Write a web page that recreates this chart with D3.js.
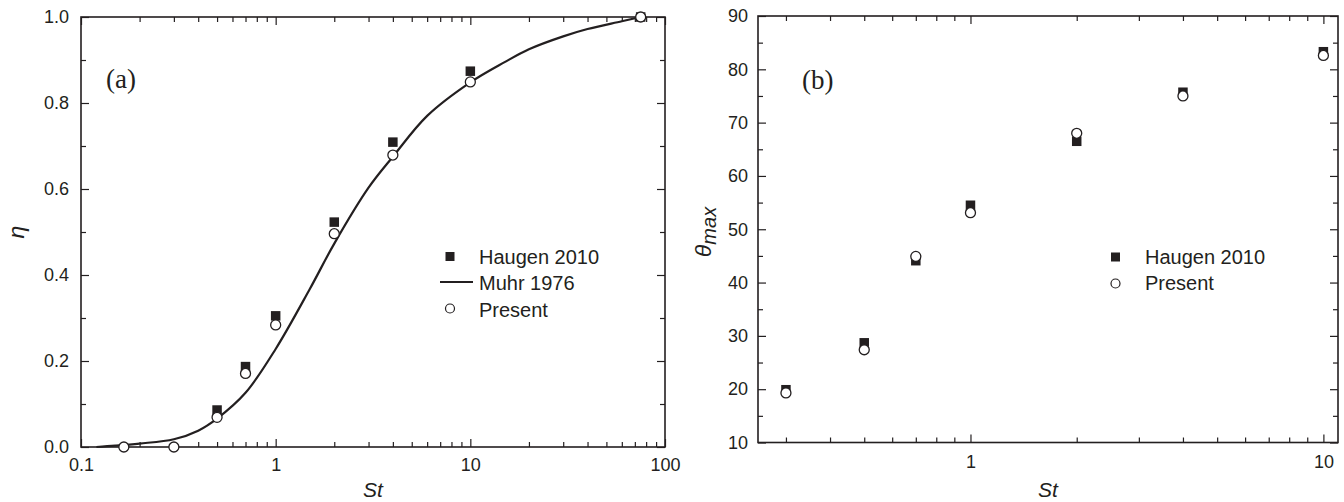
<!DOCTYPE html>
<html>
<head>
<meta charset="utf-8">
<script src="https://cdn.jsdelivr.net/npm/d3@7"></script>
<style>
  body { margin: 0; background: #fff; }
  svg { display: block; font-family: "Liberation Sans", Arial, sans-serif; }
  text { fill: #231f20; }
</style>
</head>
<body>
<svg id="chart" width="1344" height="502"></svg>
<script>
// ---- Panel (a): collection efficiency eta vs Stokes number ----
const stPresentA = [0.166, 0.3, 0.5, 0.7, 1, 2, 4, 10, 75];
const etaPresent = [0.0, 0.0, 0.069, 0.171, 0.284, 0.496, 0.679, 0.849, 1.0];
const stHaugenA = [0.5, 0.7, 1, 2, 4, 10, 75];
const etaHaugen = [0.086, 0.187, 0.305, 0.523, 0.709, 0.874, 1.0];
const stMuhr = [0.12, 0.15, 0.2, 0.3, 0.4, 0.5, 0.7, 1.0, 1.5, 2.0, 3.0, 4.0, 6.0, 10, 15, 20, 30, 40, 60, 75];
const etaMuhr = [0.0, 0.003, 0.008, 0.018, 0.038, 0.066, 0.126, 0.228, 0.368, 0.473, 0.603, 0.675, 0.77, 0.848, 0.895, 0.925, 0.955, 0.972, 0.99, 1.0];

const xMajorA = [0.1, 1, 10, 100];
const xMinorA = [2,3,4,5,6,7,8,9].flatMap(m => [m * 0.1, m, m * 10]);
const yMajorA = [0, 0.2, 0.4, 0.6, 0.8, 1.0];
const yMinorA = [0.1, 0.3, 0.5, 0.7, 0.9];

// ---- Panel (b): maximum impaction angle vs Stokes number ----
const stB = [0.3, 0.5, 0.7, 1, 2, 4, 10];
const thetaHaugen = [19.9, 28.7, 44.1, 54.5, 66.5, 75.7, 83.3];
const thetaPresent = [19.3, 27.4, 44.9, 53.1, 68.0, 75.0, 82.6];

const xMajorB = [1, 10];
const xMinorB = [0.3, 0.4, 0.5, 0.6, 0.7, 0.8, 0.9, 2, 3, 4, 5, 6, 7, 8, 9];
const yMajorB = [10, 20, 30, 40, 50, 60, 70, 80, 90];
const yMinorB = [15, 25, 35, 45, 55, 65, 75, 85];

const INK = "#231f20";
const SANS = '"Liberation Sans", Arial, sans-serif';
const SERIF = '"Liberation Serif", "Times New Roman", serif';
const svg = d3.select("#chart");

function drawFrame(g, x, y, opt) {
  const [x0, x1] = x.range();
  const [yb, yt] = y.range();

  const addAxis = (axis, tx, ty, labels) => {
    const a = g.append("g").attr("transform", `translate(${tx},${ty})`).call(axis);
    a.select(".domain").remove();
    a.selectAll("line").attr("stroke", INK).attr("stroke-width", 1.2);
    a.selectAll("text").style("font-size", "18px").style("font-family", SANS).attr("fill", INK);
    if (!labels) a.selectAll("text").remove();
    return a;
  };

  // bottom / top
  addAxis(d3.axisBottom(x).tickValues(opt.xMajor).tickSize(-8).tickPadding(opt.xPad).tickFormat(opt.xFmt), 0, yb, true);
  addAxis(d3.axisBottom(x).tickValues(opt.xMinor).tickSize(-5).tickFormat(""), 0, yb, false);
  addAxis(d3.axisTop(x).tickValues(opt.xMajor).tickSize(-8).tickFormat(""), 0, yt, false);
  addAxis(d3.axisTop(x).tickValues(opt.xMinor).tickSize(-5).tickFormat(""), 0, yt, false);
  // left / right
  addAxis(d3.axisLeft(y).tickValues(opt.yMajor).tickSize(-8).tickPadding(opt.yPad).tickFormat(opt.yFmt), x0, 0, true);
  addAxis(d3.axisLeft(y).tickValues(opt.yMinor).tickSize(-5).tickFormat(""), x0, 0, false);
  addAxis(d3.axisRight(y).tickValues(opt.yMajor).tickSize(-8).tickFormat(""), x1, 0, false);
  addAxis(d3.axisRight(y).tickValues(opt.yMinor).tickSize(-5).tickFormat(""), x1, 0, false);

  g.append("rect")
    .attr("x", x0).attr("y", yt).attr("width", x1 - x0).attr("height", yb - yt)
    .attr("fill", "none").attr("stroke", INK).attr("stroke-width", 1.6);
}

function squares(g, x, y, xs, ys, size) {
  g.append("g").selectAll("rect").data(xs.map((v, i) => [v, ys[i]])).join("rect")
    .attr("x", d => x(d[0]) - size / 2).attr("y", d => y(d[1]) - size / 2)
    .attr("width", size).attr("height", size).attr("fill", INK);
}

function circles(g, x, y, xs, ys, r) {
  g.append("g").selectAll("circle").data(xs.map((v, i) => [v, ys[i]])).join("circle")
    .attr("cx", d => x(d[0])).attr("cy", d => y(d[1])).attr("r", r)
    .attr("fill", "#fff").attr("stroke", INK).attr("stroke-width", 1.3);
}

// ================= Panel (a) =================
const xA = d3.scaleLog().domain([0.1, 100]).range([81, 665]);
const yA = d3.scaleLinear().domain([0, 1]).range([447, 17]);
const gA = svg.append("g");

drawFrame(gA, xA, yA, {
  xMajor: xMajorA, xMinor: xMinorA, yMajor: yMajorA, yMinor: yMinorA,
  xFmt: d => String(d), yFmt: d3.format(".1f"), xPad: 11, yPad: 12
});

const muhrLine = d3.line()
  .x(d => xA(d[0])).y(d => yA(d[1]))
  .curve(d3.curveCatmullRom.alpha(0.5));
gA.append("path")
  .datum(stMuhr.map((s, i) => [s, etaMuhr[i]]))
  .attr("d", muhrLine).attr("fill", "none").attr("stroke", INK).attr("stroke-width", 2.2);

squares(gA, xA, yA, stHaugenA, etaHaugen, 9.5);
circles(gA, xA, yA, stPresentA, etaPresent, 5);

gA.append("text").attr("x", 106).attr("y", 88)
  .style("font-family", SERIF).style("font-size", "27px").text("(a)");

gA.append("text").attr("x", 373).attr("y", 497).attr("text-anchor", "middle")
  .style("font-size", "21px").style("font-style", "italic").text("St");

gA.append("text").attr("transform", "translate(24,232) rotate(-90)")
  .attr("text-anchor", "middle").style("font-size", "23px").style("font-style", "italic").text("η");

// legend (a)
const legA = gA.append("g");
legA.append("rect").attr("x", 445.5).attr("y", 252).attr("width", 9).attr("height", 9).attr("fill", INK);
legA.append("line").attr("x1", 440).attr("x2", 473).attr("y1", 282).attr("y2", 282)
  .attr("stroke", INK).attr("stroke-width", 2.2);
legA.append("circle").attr("cx", 450).attr("cy", 308.5).attr("r", 4.5)
  .attr("fill", "#fff").attr("stroke", INK).attr("stroke-width", 1.2);
["Haugen 2010", "Muhr 1976", "Present"].forEach((t, i) => {
  legA.append("text").attr("x", 479).attr("y", 263.5 + i * 26.5).style("font-size", "20px").text(t);
});

// ================= Panel (b) =================
const xB = d3.scaleLog().domain([0.25, 11]).range([758, 1338]);
const yB = d3.scaleLinear().domain([10, 90]).range([442.5, 16]);
const gB = svg.append("g");

drawFrame(gB, xB, yB, {
  xMajor: xMajorB, xMinor: xMinorB, yMajor: yMajorB, yMinor: yMinorB,
  xFmt: d => String(d), yFmt: d3.format("d"), xPad: 13, yPad: 10
});

squares(gB, xB, yB, stB, thetaHaugen, 9.5);
circles(gB, xB, yB, stB, thetaPresent, 5);

gB.append("text").attr("x", 802).attr("y", 89)
  .style("font-family", SERIF).style("font-size", "27px").text("(b)");

gB.append("text").attr("x", 1048).attr("y", 497).attr("text-anchor", "middle")
  .style("font-size", "21px").style("font-style", "italic").text("St");

const thetaLabel = gB.append("text").attr("transform", "translate(711,232) rotate(-90)")
  .attr("text-anchor", "middle").style("font-style", "italic");
thetaLabel.append("tspan").style("font-size", "23px").text("θ");
thetaLabel.append("tspan").style("font-size", "20px").attr("dy", 5).text("max");

// legend (b)
const legB = gB.append("g");
legB.append("rect").attr("x", 1111).attr("y", 252.5).attr("width", 9).attr("height", 9).attr("fill", INK);
legB.append("circle").attr("cx", 1115.5).attr("cy", 283.5).attr("r", 4.5)
  .attr("fill", "#fff").attr("stroke", INK).attr("stroke-width", 1.2);
["Haugen 2010", "Present"].forEach((t, i) => {
  legB.append("text").attr("x", 1145).attr("y", 263.5 + i * 26.5).style("font-size", "20px").text(t);
});
</script>
</body>
</html>
